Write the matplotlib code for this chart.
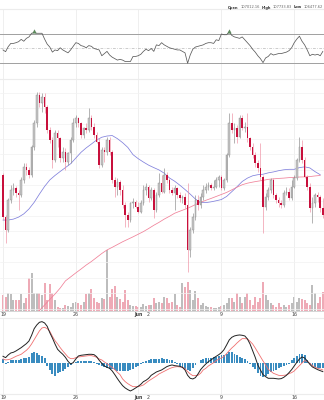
import numpy as np
import matplotlib
matplotlib.use("Agg")
import matplotlib.pyplot as plt
from matplotlib.offsetbox import TextArea, HPacker, AnnotationBbox

# ---- 6-hour BTC/USD candles, 19 May -> 19 Jun ----
opens = [106660, 103960, 103090, 105040, 105690, 105800, 105470, 105360, 106340, 107200,
         106990, 106660, 108500, 110010, 111850, 111310, 111740, 111090, 109580, 108930,
         107630, 109360, 109040, 107740, 108180, 107530, 108070, 108930, 110010, 110340,
         110010, 109260, 109690, 109580, 110340, 109800, 109260, 108820, 107310, 108280,
         108180, 108930, 108180, 106340, 105900, 106230, 105690, 104720, 104070, 103740,
         104820, 104930, 104610, 104280, 104820, 105690, 105900, 105150, 105690, 104390,
         105360, 106120, 105580, 106660, 106340, 105690, 105470, 105800, 105360, 105150,
         105260, 104720, 101800, 103090, 103960, 105040, 104720, 105260, 105690, 105900,
         106010, 105800, 105900, 106340, 106550, 105800, 106340, 107960, 110010, 109580,
         109690, 109150, 110340, 109690, 109800, 109040, 108500, 107960, 107420, 107090,
         106550, 104610, 105260, 105690, 106340, 105360, 105040, 104820, 104720, 105470,
         105580, 105150, 105900, 106450, 107630, 108500, 107630, 106550, 105900, 104500,
         104820, 105360, 105260, 104500]
highs = [106770, 104070, 105150, 106010, 106120, 105950, 105690, 106550, 107420, 107420,
         107200, 108610, 110230, 112070, 112070, 111960, 111960, 111200, 109800, 109150,
         109580, 109580, 109150, 108500, 108390, 108180, 109150, 110340, 110550, 110450,
         110120, 109800, 110010, 110990, 110550, 110010, 109470, 109040, 108500, 108500,
         109100, 109100, 108280, 106550, 106450, 106340, 106010, 104930, 104280, 104930,
         105150, 105040, 104930, 105040, 106010, 106120, 106010, 105900, 105800, 105580,
         106770, 106660, 107090, 106880, 106450, 105900, 106010, 105900, 105580, 105360,
         105470, 106120, 103310, 104180, 105360, 105360, 105470, 106010, 106120, 106230,
         106120, 106340, 106550, 106660, 106660, 106450, 108070, 110660, 110660, 110010,
         109900, 110550, 110550, 110120, 110660, 109150, 108720, 108180, 107630, 108720,
         106660, 105470, 105900, 106450, 106450, 105470, 105260, 105040, 105690, 105900,
         105800, 106340, 106660, 107740, 109150, 108930, 107850, 106660, 106120, 105260,
         105470, 105580, 105360, 105150]
lows = [103740, 102230, 102990, 104820, 105360, 105260, 104390, 105260, 106120, 106660,
        106450, 106550, 108280, 109800, 111090, 110770, 110660, 109360, 108720, 107090,
        107530, 108500, 107530, 107530, 106990, 107310, 107420, 108820, 109800, 109800,
        109040, 109040, 109360, 109470, 109580, 109040, 108720, 107090, 107160, 107530,
        107960, 107960, 106120, 105260, 105360, 105360, 104500, 103310, 103310, 103640,
        104500, 104500, 104180, 104180, 104720, 105360, 104930, 105040, 103850, 104280,
        105260, 105470, 105470, 106120, 105470, 105360, 104390, 105150, 104930, 104820,
        104500, 100390, 101360, 102880, 103740, 104390, 104500, 105040, 105470, 105690,
        105690, 105690, 105800, 105900, 105690, 105690, 106230, 107850, 109360, 108720,
        108720, 109040, 109580, 109470, 108820, 108280, 107740, 107200, 106880, 106340,
        102880, 104390, 105040, 105470, 105150, 104820, 104610, 104500, 104610, 105360,
        105040, 105040, 105800, 106340, 107530, 107420, 106450, 105690, 104280, 103530,
        104610, 104930, 104280, 103850]
closes = [103960, 103090, 105040, 105690, 105800, 105470, 105360, 106340, 107200, 106990,
          106660, 108500, 110010, 111850, 111310, 111740, 111090, 109580, 108930, 107630,
          109360, 109040, 107740, 108180, 107530, 108070, 108930, 110010, 110340, 110010,
          109260, 109690, 109580, 110340, 109800, 109260, 108820, 107310, 108280, 108180,
          108930, 108180, 106340, 105900, 106230, 105690, 104720, 104070, 103740, 104820,
          104930, 104610, 104280, 104820, 105690, 105900, 105150, 105690, 104390, 105360,
          106120, 105580, 106660, 106340, 105690, 105470, 105800, 105360, 105150, 105260,
          104720, 101800, 103090, 103960, 105040, 104720, 105260, 105690, 105900, 106010,
          105800, 105900, 106340, 106550, 105800, 106340, 107960, 110010, 109580, 109690,
          109150, 110340, 109690, 109800, 109040, 108500, 107960, 107420, 107090, 106550,
          104610, 105260, 105690, 106340, 105360, 105040, 104820, 104720, 105470, 105580,
          105150, 105900, 106450, 107630, 108500, 107630, 106550, 105900, 104500, 104820,
          105360, 105260, 104500, 104070]
volumes = [2450, 2150, 2750, 2550, 1650, 1650, 1650, 2500, 1150, 1900,
           4900, 5650, 2650, 2650, 2650, 2400, 4150, 1650, 4000, 2650,
           1650, 650, 500, 500, 900, 750, 550, 1150, 1400, 1150,
           900, 1400, 2500, 2750, 3250, 2000, 1400, 1150, 1900, 1750,
           9150, 2150, 3250, 3750, 2150, 1750, 1400, 3150, 1650, 900,
           750, 750, 650, 550, 1000, 750, 900, 900, 1900, 1250,
           1400, 1150, 2150, 1900, 1150, 1400, 2500, 900, 650, 4250,
           3650, 4350, 3150, 1650, 3000, 1900, 900, 1150, 750, 550,
           650, 400, 400, 550, 750, 900, 1250, 1900, 1900, 1400,
           2650, 2150, 1150, 2150, 2650, 1650, 900, 2150, 1400, 1900,
           4400, 2400, 1650, 1150, 900, 650, 1150, 650, 900, 650,
           900, 1250, 2150, 1400, 1900, 1750, 1650, 1150, 900, 3900,
           2650, 1150, 2150, 2900]

# moving averages, sampled every second candle
sma_fast = [103740, 103740, 103800, 103930, 104140, 104460, 104890, 105420, 105920, 106340,
            106630, 106890, 107140, 107390, 107760, 108130, 108420, 108670, 108930, 109110,
            109190, 109220, 109020, 108760, 108450, 107980, 107720, 107500, 107300, 107140,
            106990, 106780, 106470, 106260, 106000, 105720, 105420, 105100, 104870, 104870,
            104920, 104990, 105070, 105270, 105580, 105900, 106240, 106460, 106610, 106680,
            106710, 106800, 106860, 106940, 107000, 107030, 107030, 107140, 107190, 107120,
            106880, 106680]
sma_slow_start = 12
sma_slow = [97520, 97870, 98230, 98590, 98940, 99330, 99790, 100050, 100310, 100560,
            100820, 101050, 101310, 101570, 101800, 101970, 102150, 102330, 102490, 102650,
            102820, 102990, 103190, 103400, 103590, 103800, 103980, 104180, 104310, 104440,
            104580, 104740, 104890, 105020, 105140, 105270, 105400, 105530, 105700, 105870,
            106030, 106130, 106200, 106260, 106310, 106380, 106410, 106440, 106460, 106490,
            106510, 106530, 106540, 106560, 106600, 106630]

rsi = [48, 45.6, 52.5, 57, 57, 58, 59.4, 62.6, 60, 64,
       66, 71, 72, 71, 71, 71, 63, 56, 52, 45,
       48, 47, 51, 48, 46, 44, 48, 53, 58, 57,
       54, 53, 51, 54, 53, 50, 49, 48, 40, 43,
       46, 41, 38, 36, 34, 35, 34, 32, 32, 32,
       39, 39, 40, 42, 46, 49, 47, 50, 46, 55,
       54, 58, 55, 53, 51, 50, 49, 48, 48, 46,
       44, 29.6, 41, 49, 52, 53, 54, 55, 57, 58,
       58, 57, 62, 61, 70, 69, 69, 73, 68, 66,
       65, 64, 66, 62, 58, 54, 49, 45, 40, 36,
       30.5, 37, 39, 43, 41, 42, 43, 43, 44, 45,
       47, 51, 58, 63, 67, 60, 55, 48, 40, 42,
       41, 42, 40, 46]
rsi_flags = [12, 87]

macd = [350, 283, 417, 517, 550, 617, 700, 783, 883, 983,
        1117, 1400, 1733, 1917, 2050, 2083, 2017, 1850, 1533, 1267,
        967, 700, 567, 450, 300, 100, -33, 33, 217, 367,
        400, 417, 433, 450, 450, 433, 333, 150, 0, -133,
        -200, -250, -383, -567, -767, -950, -1117, -1233, -1317, -1383,
        -1317, -1233, -1150, -1050, -917, -850, -750, -600, -517, -433,
        -383, -333, -250, -167, -117, -83, -117, -133, -150, -200,
        -333, -600, -750, -783, -717, -533, -317, -167, -33, 83,
        167, 267, 350, 433, 533, 683, 917, 1167, 1300, 1367,
        1400, 1417, 1400, 1367, 1217, 967, 633, 300, -83, -333,
        -567, -667, -750, -750, -750, -767, -783, -767, -700, -600,
        -467, -317, -133, 50, 217, 317, 267, 117, -50, -183,
        -250, -317, -367, -417]
signal = [217, 167, 183, 217, 283, 350, 400, 450, 550, 650,
          783, 967, 1183, 1400, 1617, 1767, 1800, 1733, 1600, 1350,
          1133, 967, 783, 617, 467, 317, 233, 233, 283, 317,
          333, 350, 367, 383, 383, 350, 300, 217, 167, 67,
          -17, -117, -200, -317, -450, -567, -783, -917, -1017, -1100,
          -1167, -1167, -1167, -1133, -1083, -983, -883, -800, -717, -633,
          -533, -467, -400, -333, -267, -217, -183, -167, -183, -200,
          -267, -417, -533, -617, -617, -600, -500, -333, -250, -133,
          -50, 33, 133, 217, 267, 350, 483, 633, 767, 883,
          1017, 1133, 1233, 1233, 1217, 1100, 967, 767, 550, 333,
          117, -83, -300, -400, -500, -550, -600, -617, -600, -583,
          -517, -467, -383, -250, -117, 17, 133, 100, 0, -117,
          -200, -250, -283, -333]
hist = [200, -33, 83, 167, 167, 167, 183, 233, 250, 267,
        300, 500, 550, 500, 433, 367, 250, -133, -333, -550,
        -617, -500, -417, -367, -300, -200, -100, 0, 67, 117,
        133, 117, 133, 117, 100, 67, -17, -67, -133, -200,
        -250, -267, -283, -317, -367, -400, -383, -367, -367, -333,
        -267, -200, -133, -17, 67, 133, 183, 217, 233, 233,
        217, 250, 233, 217, 183, 150, 67, -33, -133, -217,
        -283, -333, -367, -250, -100, 33, 167, 217, 250, 267,
        283, 317, 333, 367, 400, 433, 483, 550, 550, 467,
        400, 333, 283, 200, 100, -33, -167, -300, -500, -617,
        -683, -633, -533, -450, -383, -333, -250, -183, -133, -83,
        -17, 167, 283, 350, 450, 483, 400, 167, -33, -150,
        -200, -217, -233, -233]

tick_pos = [0, 28, 52, 56, 84, 112]
tick_labels = ["19", "26", "Jun", "2", "9", "16"]
grid_pos = [0, 28, 52, 84, 112]

hdr_names = ["Open", "High", "Low", "Last"]
hdr_vals = ["107012.16", "107733.83", "106477.62", ""]

# ---- styling ----
RED = "#c8103c"
RED_WICK = "#ee8ca0"
UP_FILL = "#c6c6c6"
UP_EDGE = "#8c8c8c"
VOL_UP = "#bdbdbd"
VOL_DN = "#eeaab6"
GRID = "#ececec"
FS = 3.4

W, H = 324, 400
fig = plt.figure(figsize=(W / 100, H / 100), dpi=100)
fig.patch.set_facecolor("white")


def px_axes(top, bottom):
    return fig.add_axes([0, 1 - bottom / H, 1, (bottom - top) / H])


n = len(closes)
idx = np.arange(n)
xlim = (-1.15, 123.45)


def style(ax, labels=True):
    ax.set_xlim(*xlim)
    ax.set_facecolor("none")
    for s in ax.spines.values():
        s.set_visible(False)
    for g in grid_pos:
        ax.axvline(g, color=GRID, lw=0.6, zorder=0)
    ax.set_yticks([])
    ax.set_xticks(tick_pos)
    if labels:
        ax.set_xticklabels(tick_labels, fontsize=FS, color="#444")
        for t in ax.get_xticklabels():
            if t.get_text() == "Jun":
                t.set_fontweight("bold")
        ax.tick_params(axis="x", length=0, pad=0.6)
    else:
        ax.set_xticklabels([])
        ax.tick_params(axis="x", length=0)


# ---- RSI panel ----
ax_rsi = px_axes(9, 79)
style(ax_rsi, labels=False)
ax_rsi.set_ylim(7.9, 104.5)
ax_rsi.spines["top"].set_visible(True)
ax_rsi.spines["top"].set_color(GRID)
ax_rsi.spines["bottom"].set_visible(True)
ax_rsi.spines["bottom"].set_color(GRID)
ax_rsi.axhline(70, color="#a0a0a0", lw=0.7)
ax_rsi.axhline(30, color="#a0a0a0", lw=0.7)
ax_rsi.axhline(50, color="#b8b8b8", lw=0.5, ls=(0, (4, 2, 1, 2)))
ax_rsi.plot(idx, rsi, color="#5a5a5a", lw=0.55)
ax_rsi.plot(rsi_flags, [rsi[i] + 1.5 for i in rsi_flags], ls="none", marker="^",
            ms=2.6, color="#5c8c5c", mec="#3f6a3f", mew=0.2)

# ---- price panel with volume underlay ----
ax = px_axes(80, 311)
style(ax)
ax.set_ylim(97840, 112823)
ax.spines["bottom"].set_visible(True)
ax.spines["bottom"].set_color("#cfcfcf")
ax.spines["bottom"].set_linewidth(0.6)
for lvl in range(98000, 113000, 1000):
    ax.axhline(lvl, color="#f2f2f2", lw=0.5, zorder=0)

axv = ax.twinx()
axv.set_ylim(0, 34650)
axv.set_yticks([])
for s in axv.spines.values():
    s.set_visible(False)
o = np.array(opens); c = np.array(closes)
h = np.array(highs); l = np.array(lows)
up = c >= o
axv.bar(idx, volumes, width=0.72, color=np.where(up, VOL_UP, VOL_DN), lw=0)
ax.set_zorder(axv.get_zorder() + 1)
ax.patch.set_visible(False)

ax.plot(np.arange(0, n, 2), sma_fast, color="#8080dc", lw=0.55, zorder=2)
ax.plot(np.arange(sma_slow_start, n, 2), sma_slow, color="#f08098", lw=0.55, zorder=2)

ax.vlines(idx[up], l[up], h[up], color="#8a8a8a", lw=0.45, zorder=3)
ax.vlines(idx[~up], l[~up], h[~up], color=RED_WICK, lw=0.45, zorder=3)
ax.bar(idx[up], c[up] - o[up], bottom=o[up], width=0.62, color=UP_FILL,
       edgecolor=UP_EDGE, lw=0.3, zorder=4)
ax.bar(idx[~up], o[~up] - c[~up], bottom=c[~up], width=0.62, color=RED, lw=0, zorder=4)

# ---- MACD panel ----
ax_m = px_axes(318, 394)
style(ax_m)
ax_m.set_ylim(-1535, 2265)
ax_m.spines["top"].set_visible(True)
ax_m.spines["top"].set_color(GRID)
ax_m.spines["bottom"].set_visible(True)
ax_m.spines["bottom"].set_color(GRID)
ax_m.bar(idx, hist, width=0.7, color="#3a8cc0", lw=0, zorder=1)
ax_m.plot(idx, signal, color="#f07070", lw=0.6, zorder=2)
ax_m.plot(idx, macd, color="#222222", lw=0.7, zorder=3)

# ---- header (runs past the right edge of the canvas) ----
parts = []
for name, val in zip(hdr_names, hdr_vals):
    parts.append(TextArea(name, textprops=dict(fontsize=2.6, fontweight="bold", color="#333")))
    if val:
        parts.append(TextArea(val, textprops=dict(fontsize=2.6, color="#666")))
box = HPacker(children=parts, align="baseline", pad=0, sep=1.3)
fig.add_artist(AnnotationBbox(box, (228, 392.5), xycoords="figure pixels",
                              box_alignment=(0, 0.5), frameon=False))

fig.savefig("out.png", dpi=100)
